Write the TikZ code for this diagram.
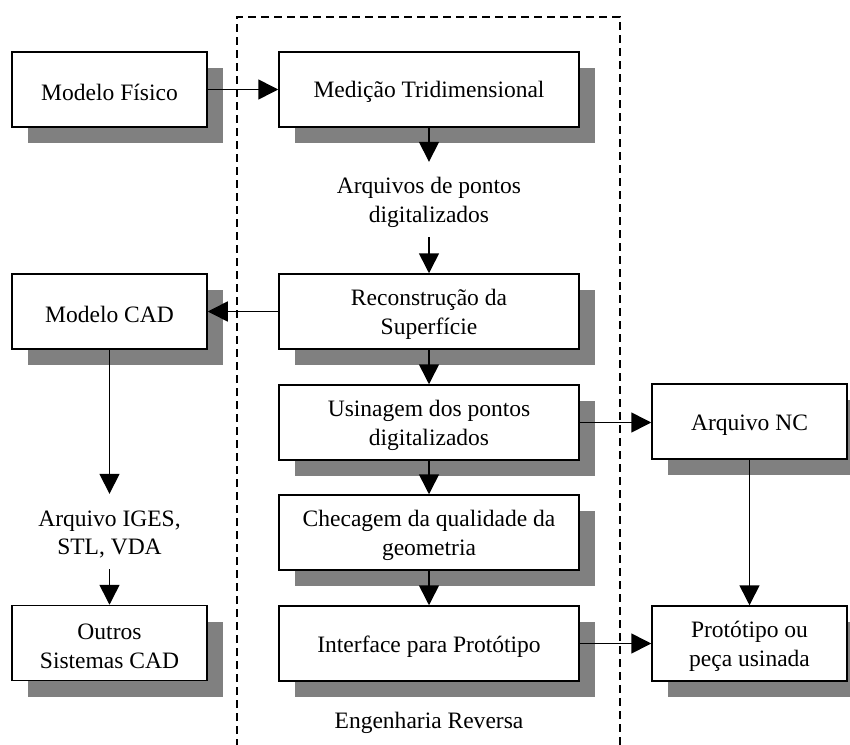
\documentclass[tikz,border=0pt]{standalone}
\usepackage{fontspec}
\setmainfont{Liberation Serif}
\usetikzlibrary{arrows.meta,shadows}
\definecolor{shade}{RGB}{128,128,128}
% strut that lowers the text block a little inside its node
\newcommand\topstrut{\rule{0pt}{22bp}}
\begin{document}
\begin{tikzpicture}[x=1bp,y=-1bp,
  font=\fontsize{23.6}{28.5}\selectfont,
  box/.style={draw, line width=1.5bp, fill=white, align=center, inner sep=0pt,
    minimum height=75bp,
    drop shadow={shadow xshift=16bp, shadow yshift=-16bp, fill=shade, opacity=1}},
  wide/.style={box, minimum width=300bp},
  side/.style={box, minimum width=195bp},
  label/.style={align=center, inner sep=0pt, minimum height=75bp, minimum width=200bp},
  flow/.style={line width=1.6bp, -{Triangle[length=20bp,width=20bp]}},
  frame/.style={line width=1.5bp, dash pattern=on 8bp off 5bp}
]
\useasboundingbox (0,0) rectangle (850,745);

% reverse engineering boundary (open at the bottom)
\draw[frame] (237,760) -- (237,17) -- (620,17) -- (620,760);

% main chain
\node[wide] (med) at (429,89.5) {\topstrut Medição Tridimensional};
\node[label] (pts) at (429,199.5) {\topstrut Arquivos de pontos\\digitalizados};
\node[wide] (rec) at (429,311.5) {\topstrut Reconstrução da\\Superfície};
\node[wide] (usi) at (429,422.5) {\topstrut Usinagem dos pontos\\digitalizados};
\node[wide] (chk) at (429,532.5) {\topstrut Checagem da qualidade da\\geometria};
\node[wide] (ifc) at (429,643.5) {\topstrut Interface para Protótipo};
\node[inner sep=0pt] (eng) at (429,723) {Engenharia Reversa};

% left column
\node[side] (fis) at (109.5,89.5) {\topstrut Modelo Físico};
\node[side] (cad) at (109.5,311.5) {\topstrut Modelo CAD};
\node[label] (iges) at (109.5,531.5) {\topstrut Arquivo IGES,\\STL, VDA};
\node[side] (out) at (109.5,643) {\topstrut Outros\\Sistemas CAD};

% right column
\node[side] (nc) at (749.5,421.5) {\topstrut Arquivo NC};
\node[side] (pro) at (749.5,643.5) {\topstrut Protótipo ou\\peça usinada};

% connectors
\draw[flow] (fis) -- (med);
\draw[flow] (med) -- (pts);
\draw[flow] (pts) -- (rec);
\draw[flow] (rec) -- (usi);
\draw[flow] (usi) -- (chk);
\draw[flow] (chk) -- (ifc);
\draw[flow] (rec) -- (cad);
\draw[flow] (cad) -- (iges);
\draw[flow] (iges) -- (out);
\draw[flow] (usi.east) -- (usi.east -| nc.west);
\draw[flow] (nc) -- (pro);
\draw[flow] (ifc) -- (pro);
\end{tikzpicture}
\end{document}
